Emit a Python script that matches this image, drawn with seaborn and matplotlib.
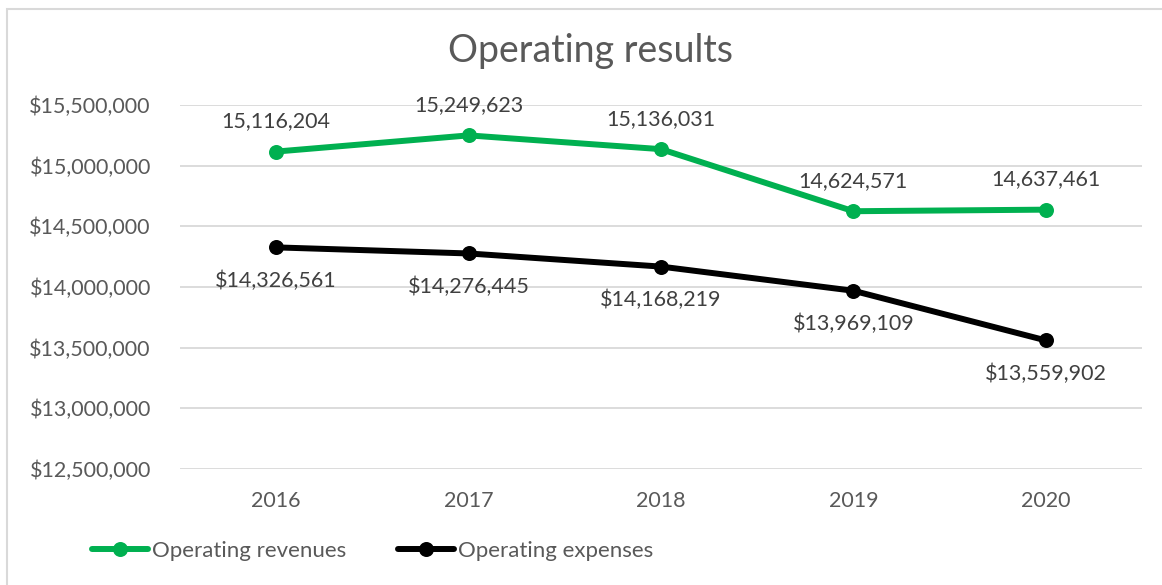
import matplotlib
matplotlib.use("Agg")
import matplotlib.pyplot as plt
import seaborn as sns
import pandas as pd
from matplotlib.ticker import FuncFormatter, MultipleLocator
from matplotlib.lines import Line2D
from matplotlib.patches import Rectangle

years = ["2016", "2017", "2018", "2019", "2020"]
revenues = [15116204, 15249623, 15136031, 14624571, 14637461]
expenses = [14326561, 14276445, 14168219, 13969109, 13559902]
series_names = ["Operating revenues", "Operating expenses"]

GREEN = "#00B050"
BLACK = "#000000"
TEXT = "#595959"
LABEL = "#404040"
GRID = "#D9D9D9"
FS = 15.5
LW = 4.3
MS = 10.8

sns.set_theme(style="white")
plt.rcParams["font.family"] = ["Lato", "DejaVu Sans"]

df = pd.DataFrame({
    "year": years * 2,
    "value": revenues + expenses,
    "series": [series_names[0]] * 5 + [series_names[1]] * 5,
})

fig = plt.figure(figsize=(11.62, 5.85), dpi=100)
ax = fig.add_axes([180 / 1162, 1 - 469 / 585, 962 / 1162, 364 / 585])

sns.lineplot(data=df, x="year", y="value", hue="series", sort=False,
             palette=[GREEN, BLACK], marker="o", markersize=MS,
             markeredgewidth=0, linewidth=LW, legend=False, ax=ax)

ax.set_xlim(-0.5, 4.5)
ax.set_ylim(12500000, 15500000)
ax.yaxis.set_major_locator(MultipleLocator(500000))
ax.yaxis.set_major_formatter(FuncFormatter(lambda v, p: f"${v:,.0f}"))
ax.grid(axis="y", color=GRID, linewidth=1.3)
ax.set_axisbelow(True)
for s in ax.spines.values():
    s.set_visible(False)
ax.set_xlabel("")
ax.set_ylabel("")
ax.tick_params(axis="both", length=0, labelsize=FS, labelcolor=TEXT)
ax.tick_params(axis="y", pad=21)
ax.tick_params(axis="x", pad=16)

for i, v in enumerate(revenues):
    ax.annotate(f"{v:,}", (i, v), xytext=(0, 22), textcoords="offset points",
                ha="center", va="center", fontsize=FS, color=LABEL)
for i, v in enumerate(expenses):
    ax.annotate(f"${v:,}", (i, v), xytext=(0, -24), textcoords="offset points",
                ha="center", va="center", fontsize=FS, color=LABEL)

fig.text(590 / 1162, 1 - 51 / 585, "Operating results", ha="center", va="center",
         fontsize=27, color=TEXT)

handles = [Line2D([], [], color=GREEN, lw=LW, marker="o", markersize=MS, markeredgewidth=0),
           Line2D([], [], color=BLACK, lw=LW, marker="o", markersize=MS, markeredgewidth=0)]
leg = fig.legend(handles, series_names, loc="center left",
                 bbox_to_anchor=(92 / 1162, 1 - 551 / 585), ncol=2, frameon=False,
                 fontsize=16, handlelength=2.5, handletextpad=0.18,
                 columnspacing=2.35, borderpad=0, borderaxespad=0)
for t in leg.get_texts():
    t.set_color(TEXT)

fig.patches.append(Rectangle((7 / 1162, -0.1), 1.2, 1 - 9 / 585 + 0.1,
                             transform=fig.transFigure, fill=False,
                             edgecolor=GRID, linewidth=1.5))

fig.savefig("out.png", dpi=100, facecolor="white")
